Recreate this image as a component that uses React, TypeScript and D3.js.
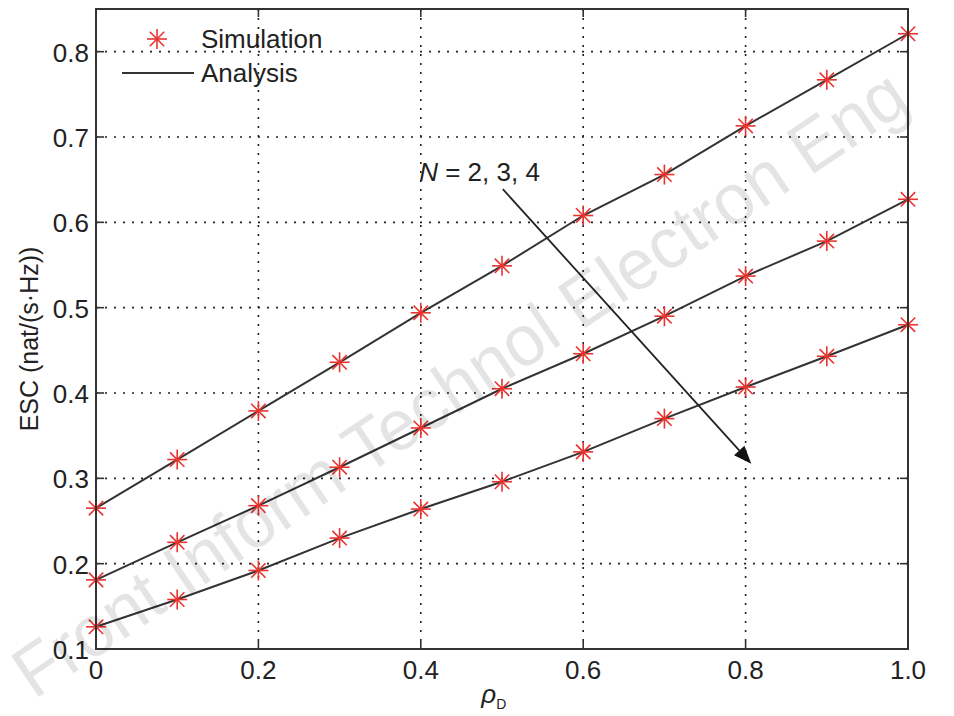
import React from 'react'
import * as d3 from 'd3'

// rho_D values
const rho = [0, 0.1, 0.2, 0.3, 0.4, 0.5, 0.6, 0.7, 0.8, 0.9, 1.0]
// ESC for N = 2, 3, 4
const escN2 = [0.265, 0.322, 0.379, 0.436, 0.494, 0.549, 0.608, 0.656, 0.713, 0.767, 0.821]
const escN3 = [0.181, 0.225, 0.268, 0.313, 0.359, 0.405, 0.446, 0.490, 0.537, 0.578, 0.627]
const escN4 = [0.126, 0.158, 0.192, 0.230, 0.264, 0.296, 0.331, 0.370, 0.407, 0.443, 0.480]
const series = [escN2, escN3, escN4]

const xTicks = [0, 0.2, 0.4, 0.6, 0.8, 1.0]
const xTickLabels = ['0', '0.2', '0.4', '0.6', '0.8', '1.0']
const yTicks = [0.1, 0.2, 0.3, 0.4, 0.5, 0.6, 0.7, 0.8]
const yTickLabels = ['0.1', '0.2', '0.3', '0.4', '0.5', '0.6', '0.7', '0.8']

const W = 954
const H = 716
const [top, right, bottom, left] = [9, 46, 67, 96]
const font = 'Liberation Sans, Arial, sans-serif'
const red = '#e8332f'
const fs = 26

function Star({ cx, cy }: { cx: number; cy: number }) {
  const r = 10
  const d = r * 0.72
  return (
    <g stroke={red} strokeWidth={1.6}>
      <line x1={cx - r} y1={cy} x2={cx + r} y2={cy} />
      <line x1={cx} y1={cy - r} x2={cx} y2={cy + r} />
      <line x1={cx - d} y1={cy - d} x2={cx + d} y2={cy + d} />
      <line x1={cx - d} y1={cy + d} x2={cx + d} y2={cy - d} />
    </g>
  )
}

export default function App() {
  const width = W - left - right
  const height = H - top - bottom
  const x = d3.scaleLinear().domain([0, 1]).range([left, left + width])
  const y = d3.scaleLinear().domain([0.1, 0.85]).range([top + height, top])
  const line = d3.line<number>().x((_, i) => x(rho[i])).y(d => y(d))

  // arrow annotation in data coords
  const a0 = [0.501, 0.639]
  const a1 = [0.807, 0.317]
  const ax0 = x(a0[0]), ay0 = y(a0[1]), ax1 = x(a1[0]), ay1 = y(a1[1])
  const ang = Math.atan2(ay1 - ay0, ax1 - ax0)
  const hl = 18, hw = 7
  const bx = ax1 - hl * Math.cos(ang), by = ay1 - hl * Math.sin(ang)
  const head = `M${ax1},${ay1} L${bx + hw * Math.sin(ang)},${by - hw * Math.cos(ang)} L${bx - hw * Math.sin(ang)},${by + hw * Math.cos(ang)} Z`

  const tk = 8
  return (
    <svg width={W} height={H} style={{ position: 'absolute', left: 0, top: 0, background: '#fff' }} fontFamily={font}>
      <rect x={0} y={0} width={W} height={H} fill="#fff" />
      {/* grid */}
      <g stroke="#222" strokeWidth={1.6} strokeDasharray="2,7">
        {xTicks.slice(1, -1).map(t => (
          <line key={'gx' + t} x1={x(t)} x2={x(t)} y1={top} y2={top + height} />
        ))}
        {yTicks.slice(1).map(t => (
          <line key={'gy' + t} x1={left} x2={left + width} y1={y(t)} y2={y(t)} />
        ))}
      </g>
      {/* ticks */}
      <g stroke="#333" strokeWidth={1.6}>
        {xTicks.map(t => (
          <g key={'tx' + t}>
            <line x1={x(t)} x2={x(t)} y1={top + height} y2={top + height - tk} />
            <line x1={x(t)} x2={x(t)} y1={top} y2={top + tk} />
          </g>
        ))}
        {yTicks.map(t => (
          <g key={'ty' + t}>
            <line x1={left} x2={left + tk} y1={y(t)} y2={y(t)} />
            <line x1={left + width} x2={left + width - tk} y1={y(t)} y2={y(t)} />
          </g>
        ))}
      </g>
      {/* series lines */}
      {series.map((s, i) => (
        <path key={'l' + i} d={line(s) || ''} fill="none" stroke="#333" strokeWidth={2} />
      ))}
      {series.map((s, i) => (
        <g key={'m' + i}>
          {s.map((v, j) => <Star key={j} cx={x(rho[j])} cy={y(v)} />)}
        </g>
      ))}
      {/* box */}
      <rect x={left} y={top} width={width} height={height} fill="none" stroke="#333" strokeWidth={2} />
      {/* tick labels */}
      <g fontSize={fs} fill="#222">
        {xTicks.map((t, i) => (
          <text key={'xl' + t} x={x(t)} y={top + height + 30} textAnchor="middle">{xTickLabels[i]}</text>
        ))}
        {yTicks.map((t, i) => (
          <text key={'yl' + t} x={left - 7} y={y(t) + 10} textAnchor="end">{yTickLabels[i]}</text>
        ))}
      </g>
      {/* axis labels */}
      <text x={x(0.49)} y={703} textAnchor="middle" fontSize={fs} fill="#222">
        <tspan fontStyle="italic">ρ</tspan>
        <tspan fontSize={14} dy={6}>D</tspan>
      </text>
      <text transform={`translate(38,${top + height / 2 + 10}) rotate(-90)`} textAnchor="middle" fontSize={25} fill="#222">
        ESC (nat/(s·Hz))
      </text>
      {/* legend */}
      <Star cx={157} cy={39} />
      <text x={201} y={48} fontSize={fs} fill="#222">Simulation</text>
      <line x1={122} x2={194} y1={73} y2={73} stroke="#333" strokeWidth={2} />
      <text x={201} y={82} fontSize={fs} fill="#222">Analysis</text>
      {/* annotation */}
      <line x1={ax0} y1={ay0} x2={bx} y2={by} stroke="#222" strokeWidth={1.8} />
      <path d={head} fill="#111" />
      <text x={x(0.398)} y={y(0.648)} fontSize={fs} fill="#222">
        <tspan fontStyle="italic">N</tspan> = 2, 3, 4
      </text>
      {/* watermark */}
      <text transform="translate(34,700) rotate(-34)" fontSize={72} fill="#000" opacity={0.1}
        textLength={1060} lengthAdjust="spacingAndGlyphs">
        Front Inform Technol Electron Eng
      </text>
    </svg>
  )
}
